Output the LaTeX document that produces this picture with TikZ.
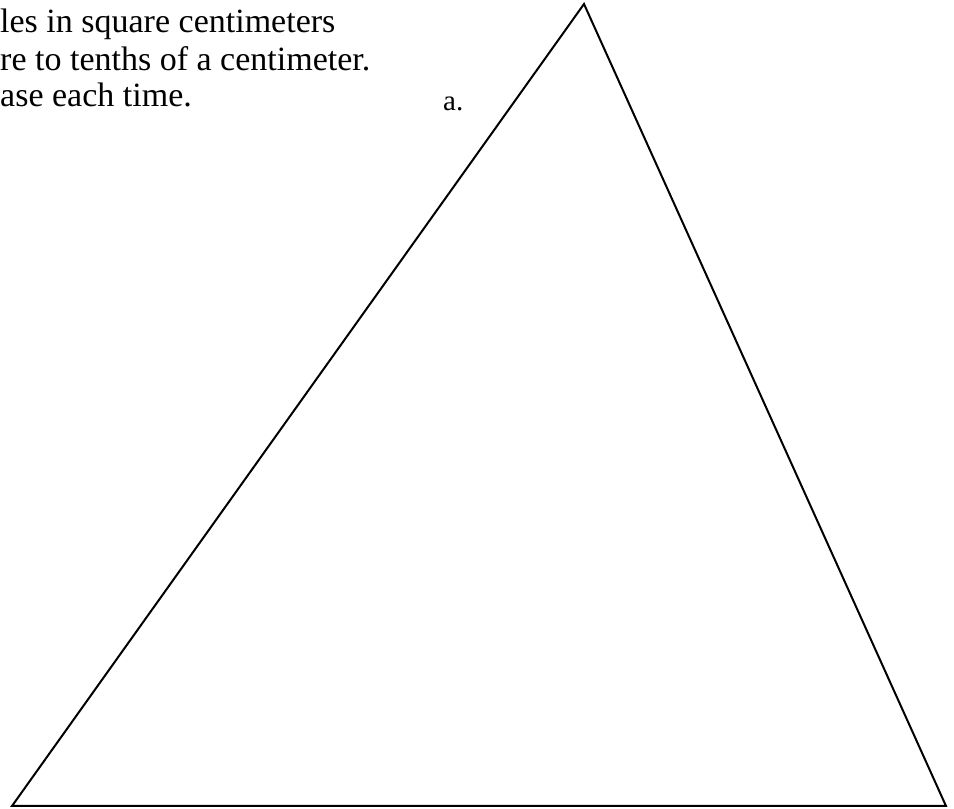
\documentclass[tikz,border=0pt]{standalone}
\usepackage{fontspec}
\setmainfont{Liberation Serif}
\tikzset{
  edge/.style={line width=2pt, line join=miter},
  txt/.style={inner sep=0pt, font=\fontsize{34}{37}\selectfont},
  lbl/.style={inner sep=0pt, font=\fontsize{29}{32}\selectfont}
}
\begin{document}
\begin{tikzpicture}[x=1pt,y=1pt]
\useasboundingbox (0,0) rectangle (954,809);
\coordinate (T) at (584,805);
\coordinate (L) at (12,3);
\coordinate (R) at (946,3);
\draw[edge] (T) -- (L) -- (R) -- cycle;
\node[txt, anchor=base west] (l1) at (0,776) {les in square centimeters};
\node[txt, anchor=base west] (l2) at (0,738) {re to tenths of a centimeter.};
\node[txt, anchor=base west] (l3) at (0,702) {ase each time.};
\node[lbl, anchor=base west] (a) at (443,698) {a.};
\end{tikzpicture}
\end{document}
